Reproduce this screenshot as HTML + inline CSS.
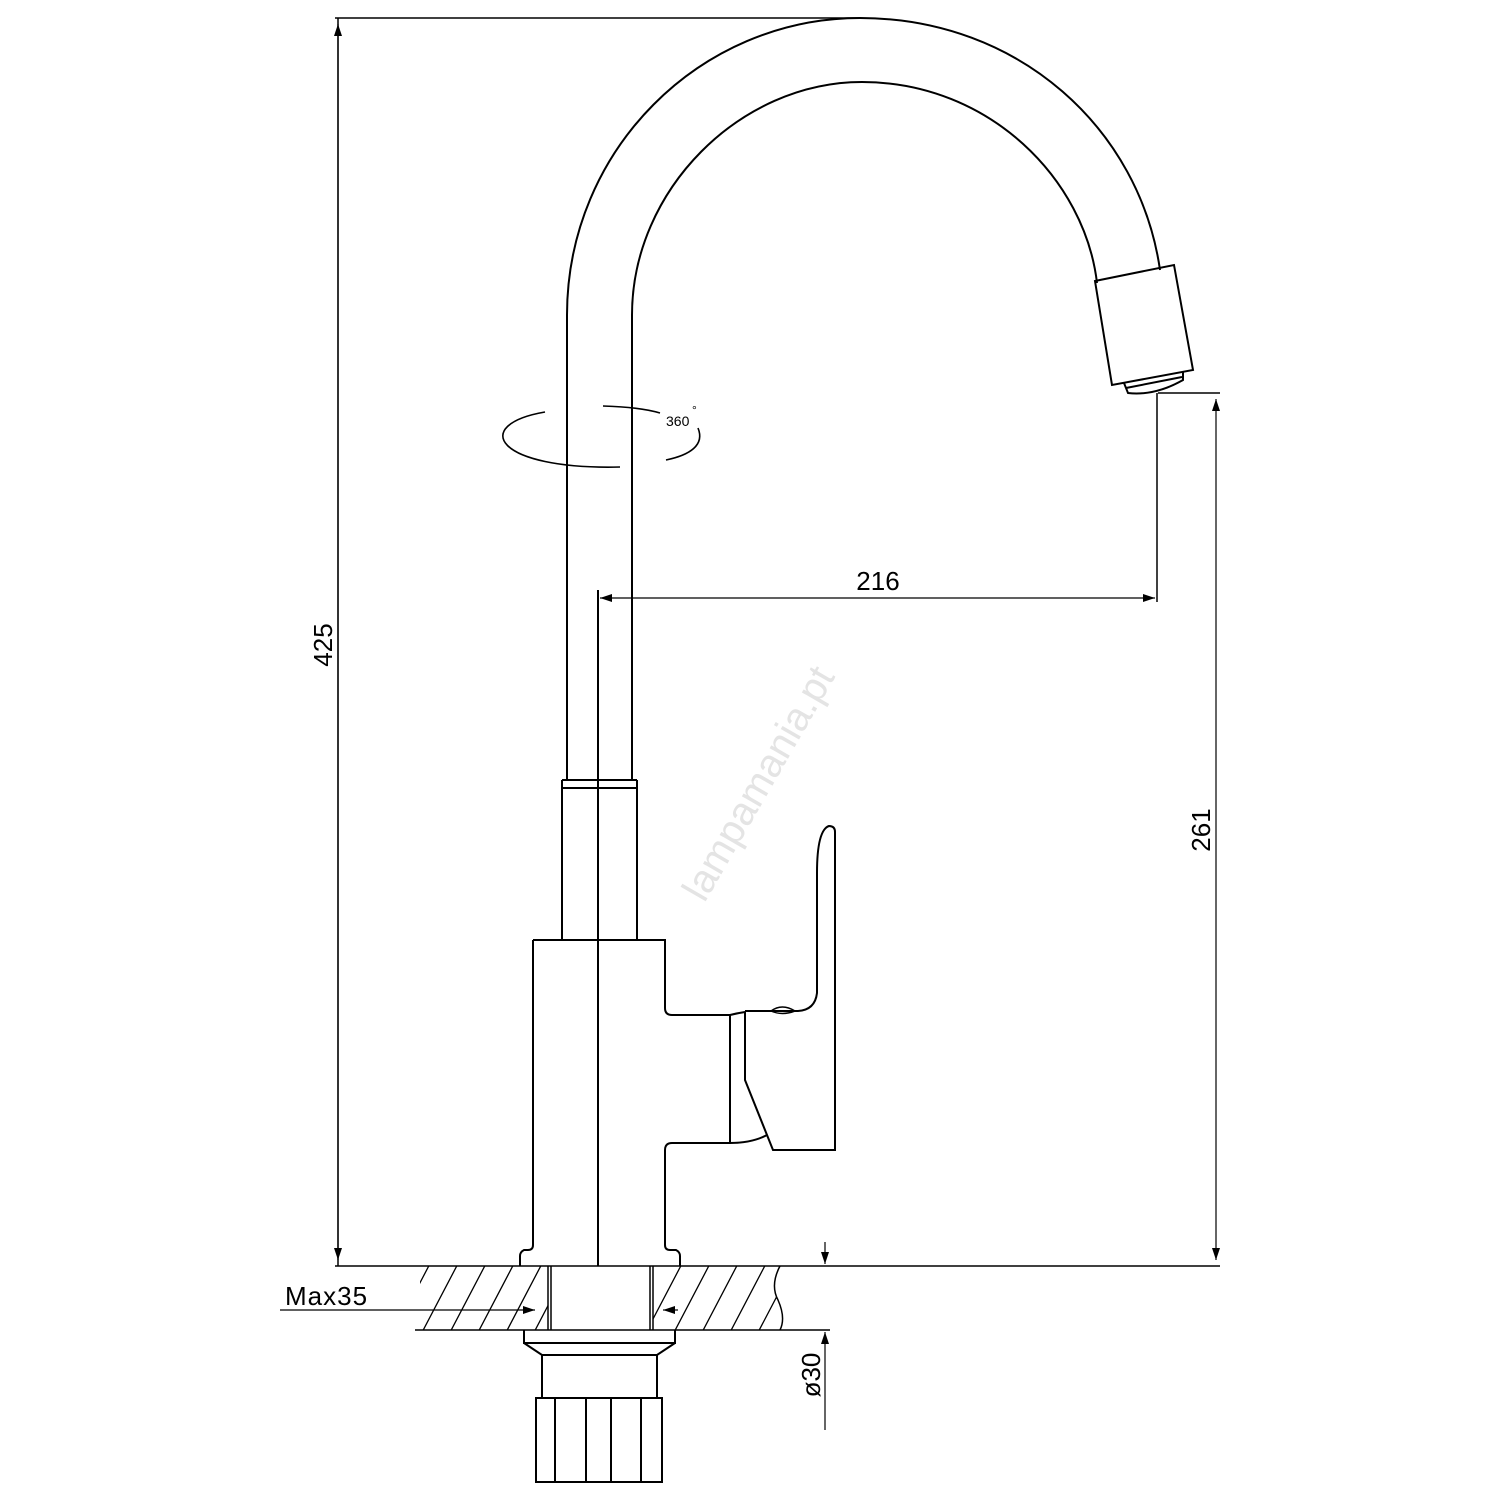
<!DOCTYPE html>
<html><head><meta charset="utf-8"><style>html,body{margin:0;padding:0;background:#fff}svg{display:block}</style></head>
<body>
<svg width="1500" height="1500" viewBox="0 0 1500 1500" xmlns="http://www.w3.org/2000/svg" font-family="Liberation Sans, sans-serif">
<defs>
<marker id="a" markerWidth="12" markerHeight="8" refX="12" refY="4" orient="auto-start-reverse" markerUnits="userSpaceOnUse"><path d="M0,0 L12,4 L0,8 Z" fill="#000"/></marker>
<clipPath id="hc"><path d="M420,1266 H548 V1330 H420 Z M653,1266 H780 Q770,1285 778,1300 Q786,1318 780,1330 H653 Z"/></clipPath>
</defs>
<text x="0" y="0" transform="translate(770,790) rotate(-60)" font-size="40" fill="#e4e4e4" text-anchor="middle">lampamania.pt</text>
<g fill="none" stroke="#000" stroke-width="2">
<!-- spout -->
<path d="M567,780 V315 C567,150 700,18 860,18 C1020,18 1140,130 1160,270"/>
<path d="M632,780 V315 C632,190 740,82 862,82 C990,82 1085,180 1097,283"/>
<path d="M1095,281 L1174,265 L1193,370 L1112,385 Z"/>
<path d="M1124,383 L1128,393 Q1155,396 1183,380 L1183,372"/>
<path d="M1126,388 L1182,377"/>
<!-- 360 -->
<path d="M545,412 C470,425 495,470 620,467" stroke-width="1.6"/>
<path d="M603,406 Q640,407 660,413" stroke-width="1.6"/>
<path d="M698,428 C705,445 690,455 666,460" stroke-width="1.6"/>
<!-- stem -->
<path d="M562,780 H637 M562,788 H637 M562,780 V940 M637,780 V940"/>
<!-- body -->
<path d="M533,940 H665 V1008 Q665,1015 672,1015 H730 V1143 H672 Q665,1143 665,1150 V1245 Q665,1250 670,1250 H676 Q680,1252 680,1256 V1266"/>
<path d="M533,940 V1245 Q533,1250 528,1250 H524 Q520,1252 520,1256 V1266"/>
<path d="M598,590 V1266"/>
<!-- handle -->
<path d="M730,1015 Q738,1013 745,1012 V1080 L773,1150 H835 V832 Q835,826 829,826 Q817,830 817,873 V993 Q815,1010 798,1011 H745"/>
<path d="M730,1143 Q752,1143 767,1135"/>
<path d="M771,1011 Q782,1003 795,1011 Q782,1016 771,1011" stroke-width="1.5"/>
<!-- dimensions -->
<path d="M335,18 H860 M338,18 V1266" stroke-width="1.5"/>
<path d="M338,24 V1260" stroke-width="1.2" marker-start="url(#a)" marker-end="url(#a)"/>
<path d="M1158,393 H1220 M1157,393 V602" stroke-width="1.5"/>
<path d="M1216,399 V1260" stroke-width="1.2" marker-start="url(#a)" marker-end="url(#a)"/>
<path d="M600,598 H1155" stroke-width="1.2" marker-start="url(#a)" marker-end="url(#a)"/>
<path d="M335,1266 H1220" stroke-width="1.5"/>
<!-- counter -->
<path d="M415,1330 H830 M780,1266 Q770,1285 778,1300 Q786,1318 780,1330" stroke-width="1.5"/>
<g clip-path="url(#hc)" stroke-width="1.3">
<path d="M390,1340 L434,1256 M418,1340 L462,1256 M446,1340 L490,1256 M474,1340 L518,1256 M502,1340 L546,1256 M530,1340 L574,1256 M558,1340 L602,1256 M586,1340 L630,1256 M614,1340 L658,1256 M642,1340 L686,1256 M670,1340 L714,1256 M698,1340 L742,1256 M726,1340 L770,1256 M754,1340 L798,1256 M782,1340 L826,1256"/>
</g>
<path d="M548,1266 V1330 M551,1266 V1330 M650,1266 V1330 M653,1266 V1330" stroke-width="1.5"/>
<path d="M280,1310 H535" stroke-width="1.2" marker-end="url(#a)"/>
<path d="M678,1310 H663" stroke-width="1.2" marker-end="url(#a)"/>
<path d="M524,1330 V1343 H675 V1330 M524,1343 L542,1355 H657 L675,1343 M542,1355 V1398 M657,1355 V1398"/>
<path d="M536,1398 H662 V1482 H536 Z M555,1398 V1482 M586,1398 V1482 M611,1398 V1482 M641,1398 V1482"/>
<path d="M825,1242 V1264" stroke-width="1.2" marker-end="url(#a)"/>
<path d="M825,1430 V1332" stroke-width="1.2" marker-end="url(#a)"/>
</g>
<g font-size="26" fill="#000">
<text x="0" y="0" transform="translate(332,645) rotate(-90)" text-anchor="middle">425</text>
<text x="0" y="0" transform="translate(1210,830) rotate(-90)" text-anchor="middle">261</text>
<text x="878" y="590" text-anchor="middle">216</text>
<text x="285" y="1305" letter-spacing="1">Max35</text>
<text x="0" y="0" transform="translate(820,1375) rotate(-90)" text-anchor="middle">ø30</text>
<text x="666" y="426" font-size="14">360</text>
<text x="692" y="414" font-size="12">°</text>
</g>
</svg>
</body></html>
